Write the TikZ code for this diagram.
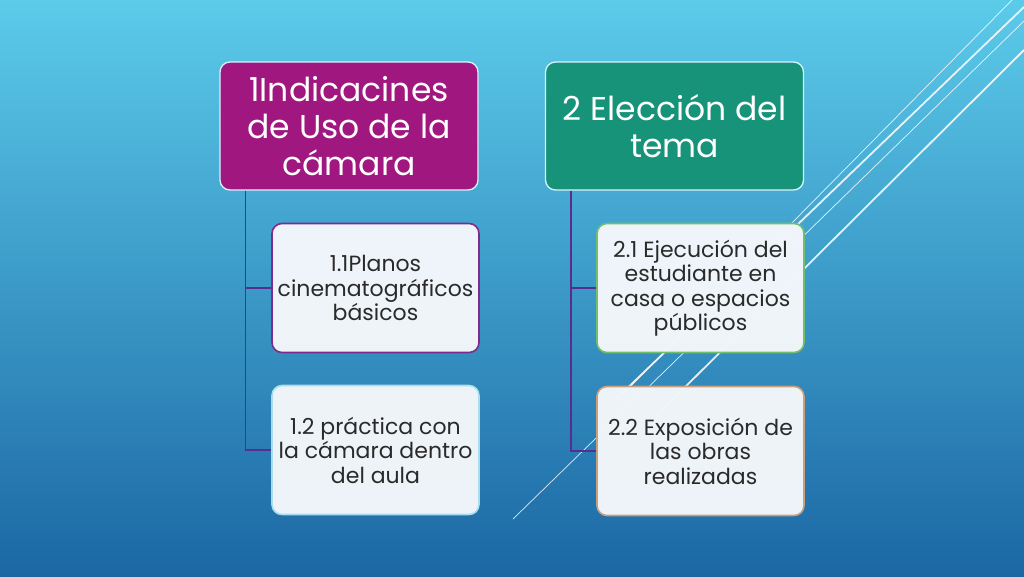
\documentclass[tikz,border=0pt]{standalone}
\usepackage{fontspec}
\setmainfont{Poppins}
\usepackage{tikz}
\usetikzlibrary{positioning}

\definecolor{bgtop}{HTML}{5CCBEA}
\definecolor{bgbot}{HTML}{1B67A4}
\definecolor{magbox}{HTML}{A0177F}
\definecolor{grnbox}{HTML}{17937A}
\definecolor{kidfill}{HTML}{F2F6FA}
\definecolor{linkcol}{HTML}{5B2C8F}
\definecolor{purpedge}{HTML}{7E2B8E}
\definecolor{cyanedge}{HTML}{A8DDEE}
\definecolor{grnedge}{HTML}{71BE6C}
\definecolor{tanedge}{HTML}{C8A07E}
\definecolor{kidtext}{HTML}{2A2A2A}

\tikzset{
  title/.style={rectangle, rounded corners=10pt, draw=white!85!cyan, line width=1.3pt,
    minimum width=258pt, minimum height=128pt, align=center,
    text=white, font=\fontsize{33}{37}\selectfont, inner sep=0pt},
  kid/.style={rectangle, rounded corners=10pt, line width=1.6pt, fill=kidfill, fill opacity=0.98,
    text opacity=1, minimum width=207pt, minimum height=129pt, align=center,
    text=kidtext, font=\fontsize{22}{24.5}\selectfont, inner sep=0pt},
  link/.style={draw=linkcol, line width=1.6pt},
  streak/.style={draw=white, opacity=0.85}
}

\begin{document}
\begin{tikzpicture}[x=1pt,y=-1pt]
  \shade[top color=bgtop, bottom color=bgbot] (0,0) rectangle (1024,576);
  \useasboundingbox (0,0) rectangle (1024,576);

  % white streaks
  \draw[streak, line width=0.7pt] (1012,0) -- (625,392);
  \draw[streak, line width=1.8pt] (1024,7) -- (617,398);
  \draw[streak, line width=0.7pt] (1024,21) -- (513,519);
  \draw[streak, line width=1.8pt] (1024,50) -- (657,415);

  \node[title, fill=magbox] (t1) at (349,126) {1Indicacines\\de Uso de la\\cámara};
  \node[title, fill=grnbox] (t2) at (674.5,126) {2 Elección del\\tema};

  \node[kid, draw=purpedge] (c11) at (375.5,288) {1.1Planos\\cinematográficos\\básicos};
  \node[kid, draw=cyanedge] (c12) at (375.5,450) {1.2 práctica con\\la cámara dentro\\del aula};
  \node[kid, draw=grnedge] (c21) at (700.5,288) {2.1 Ejecución del\\estudiante en\\casa o espacios\\públicos};
  \node[kid, draw=tanedge] (c22) at (700.5,451) {2.2 Exposición de\\las obras\\realizadas};

  \draw[link] ([xshift=26pt]t1.south west) |- (c11.west);
  \draw[link] ([xshift=26pt]t1.south west) |- (c12.west);
  \draw[link] ([xshift=26pt]t2.south west) |- (c21.west);
  \draw[link] ([xshift=26pt]t2.south west) |- (c22.west);
\end{tikzpicture}
\end{document}
